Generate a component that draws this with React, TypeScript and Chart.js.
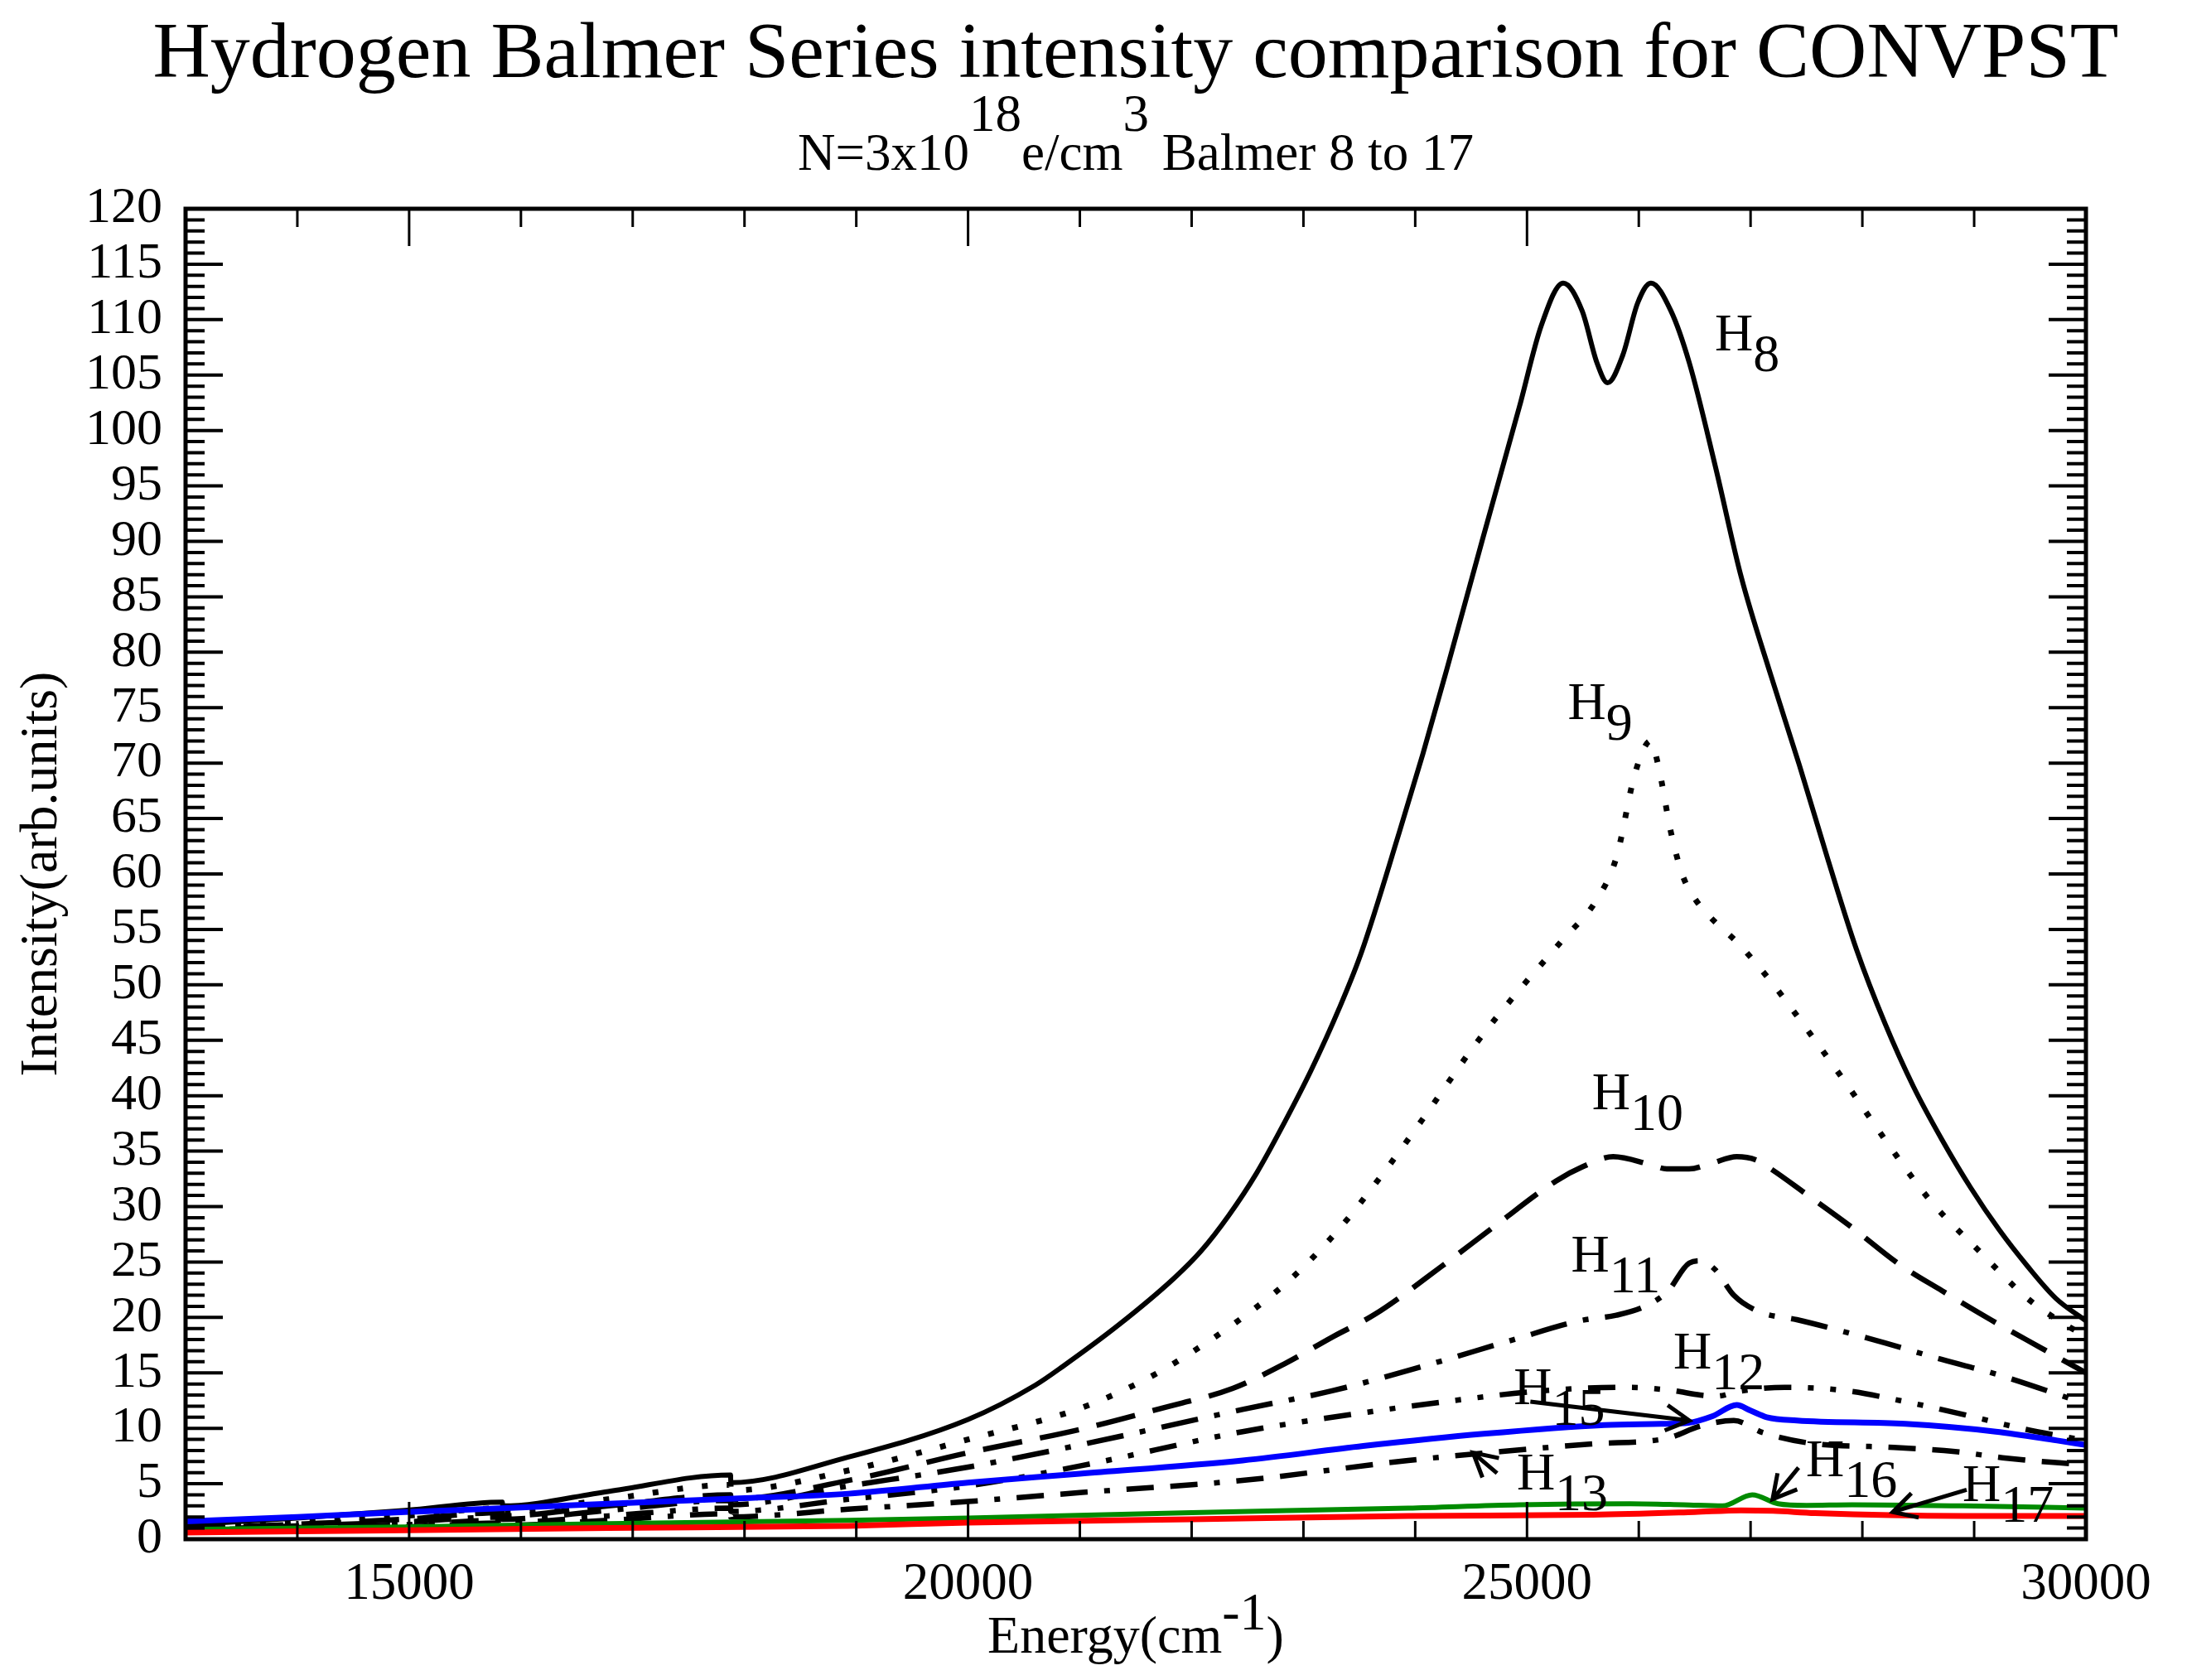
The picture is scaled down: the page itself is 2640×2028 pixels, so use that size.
import React, { useEffect, useRef } from "react";
import Chart from "chart.js/auto";

const SERIF = '"Liberation Serif", "Times New Roman", Times, serif';

// Energy (cm^-1) / intensity (arb. units), one pair per Balmer line.
// The small doubled energies are the steps the original curves have at low energy.
const h8Energy = [13000, 14000, 14965, 15835, 15836, 16780, 17876, 17877, 18929, 20000, 20603, 20850, 21344, 21839, 22085, 22332, 22580, 22826, 23074, 23321, 23518, 23856, 24068, 24281, 24600, 24931, 25129, 25324, 25493, 25626, 25721, 25857, 25990, 26109, 26287, 26452, 26684, 26916, 27182, 27437, 27692, 27947, 28203, 28458, 28714, 28969, 29224, 29479, 29733, 30000];
const h8Intensity = [1.3, 1.9, 2.6, 3.35, 3.0, 4.3, 5.8, 5.1, 7.4, 10.8, 13.9, 15.6, 19.3, 23.5, 26.0, 29.2, 33.0, 37.5, 42.4, 47.9, 52.9, 63.7, 70.8, 78.4, 90.1, 102.1, 109.5, 113.3, 110.8, 106.1, 104.3, 106.8, 111.5, 113.3, 110.8, 106.1, 96.8, 86.8, 77.9, 69.8, 61.3, 53.2, 46.5, 40.8, 36.0, 31.7, 27.9, 24.6, 21.7, 19.7];

const h9Energy = [13000, 14000, 14965, 15835, 15836, 16780, 17876, 17877, 18929, 20000, 21003, 21567, 21913, 22430, 22901, 23321, 23691, 24068, 24536, 24919, 25323, 25612, 25800, 25954, 26050, 26105, 26174, 26289, 26391, 26493, 26621, 26902, 27182, 27540, 27897, 28254, 28611, 29044, 29479, 29808, 30000];
const h9Intensity = [1.1, 1.5, 2.1, 2.8, 2.5, 3.6, 4.9, 4.4, 6.2, 9.0, 11.8, 14.3, 16.3, 19.8, 23.6, 28.0, 32.7, 37.9, 44.6, 49.4, 54.1, 57.5, 61.5, 68.6, 71.4, 72.0, 69.8, 63.7, 59.9, 57.9, 56.3, 53.6, 50.3, 45.5, 40.5, 35.3, 30.5, 26.0, 21.7, 19.4, 18.3];

const h10Energy = [13000, 14000, 14965, 15835, 15836, 16780, 17876, 17877, 18929, 20000, 21000, 21728, 22367, 22827, 23271, 23642, 24235, 24707, 25259, 25500, 25771, 26100, 26250, 26450, 26650, 26876, 27050, 27182, 27488, 27897, 28330, 28714, 29147, 29608, 30000];
const h10Intensity = [0.95, 1.35, 1.8, 2.4, 2.1, 3.0, 4.0, 3.6, 5.3, 7.8, 9.9, 11.8, 13.6, 15.8, 18.3, 20.3, 24.6, 28.2, 32.3, 33.6, 34.5, 33.8, 33.4, 33.4, 33.9, 34.5, 34.2, 33.4, 31.2, 28.2, 24.8, 22.4, 19.8, 17.2, 15.0];

const h11Energy = [13000, 14000, 14965, 15835, 15836, 16780, 17876, 17877, 18929, 20000, 21000, 22456, 23264, 24073, 24881, 25474, 25800, 26054, 26254, 26451, 26552, 26684, 26850, 27081, 27413, 27692, 28203, 28714, 29224, 30000];
const h11Intensity = [0.85, 1.2, 1.55, 2.0, 1.8, 2.6, 3.5, 3.1, 4.8, 6.5, 8.5, 11.7, 13.4, 15.6, 18.0, 19.7, 20.2, 21.0, 22.3, 24.9, 25.1, 24.3, 22.0, 20.5, 19.8, 19.1, 17.7, 16.2, 14.8, 12.2];

const h12Energy = [13000, 14000, 14965, 15835, 15836, 16780, 17876, 17877, 18929, 20000, 21000, 22456, 23534, 24342, 25151, 25906, 26300, 26550, 26700, 26876, 27306, 27846, 28385, 28924, 29463, 30000];
const h12Intensity = [0.8, 1.05, 1.3, 1.7, 1.5, 2.1, 2.8, 2.5, 3.6, 4.8, 6.6, 9.7, 11.4, 12.5, 13.4, 13.7, 13.4, 13.0, 12.9, 13.3, 13.7, 13.4, 12.4, 11.2, 9.9, 8.9];

const h13Energy = [13000, 14000, 14965, 15835, 15836, 16780, 17876, 17877, 18929, 20000, 21000, 22456, 23938, 24765, 25592, 26254, 26552, 26850, 27114, 27577, 28237, 28830, 29290, 30000];
const h13Intensity = [0.7, 0.9, 1.1, 1.45, 1.25, 1.7, 2.3, 2.0, 2.7, 3.4, 4.2, 5.3, 7.1, 7.9, 8.6, 9.1, 10.2, 10.7, 9.6, 8.6, 8.3, 7.9, 7.3, 6.7];

const h15Energy = [13000, 14000, 14965, 16000, 16780, 18000, 18929, 20000, 21000, 22456, 23534, 24612, 25690, 26200, 26444, 26660, 26876, 27000, 27145, 27414, 28385, 29194, 29742, 30000];
const h15Intensity = [1.6, 2.0, 2.45, 2.85, 3.2, 3.7, 4.1, 5.1, 5.9, 7.1, 8.4, 9.5, 10.3, 10.4, 10.5, 11.1, 12.1, 11.6, 11.0, 10.7, 10.4, 9.7, 8.9, 8.5];

const h16Energy = [13170, 14965, 16780, 18929, 20000, 22000, 23938, 24930, 25924, 26400, 26750, 27015, 27246, 27500, 27908, 28900, 30000];
const h16Intensity = [0.9, 1.1, 1.4, 1.7, 1.9, 2.4, 2.8, 3.1, 3.2, 3.1, 3.0, 4.0, 3.2, 3.05, 3.1, 3.0, 2.8];

const h17Energy = [13000, 14965, 16780, 18929, 20000, 22000, 23938, 25592, 26500, 26916, 27200, 27577, 28900, 30000];
const h17Intensity = [0.6, 0.8, 1.0, 1.2, 1.5, 1.8, 2.1, 2.2, 2.45, 2.6, 2.55, 2.35, 2.1, 2.1];

// Axis tick values
const energyTicks = [15000, 20000, 25000, 30000];

// Text labels on the curves, anchored in data units (left edge of "H", baseline).
const curveLabels = [
  { sub: "8", x: 26680, y: 107.2 },
  { sub: "9", x: 25364, y: 74.0 },
  { sub: "10", x: 25582, y: 38.8 },
  { sub: "11", x: 25394, y: 24.1 },
  { sub: "12", x: 26310, y: 15.4 },
  { sub: "15", x: 24881, y: 12.2 },
  { sub: "13", x: 24908, y: 4.5 },
  { sub: "16", x: 27495, y: 5.7 },
  { sub: "17", x: 28896, y: 3.4 },
];

const labelArrows = [
  { from: [25030, 12.4], to: [26452, 10.7] },
  { from: [24732, 5.95], to: [24517, 7.8] },
  { from: [27429, 6.45], to: [27197, 3.6] },
  { from: [28933, 4.45], to: [28272, 2.45] },
];

const series = [
  { name: "H8", xs: h8Energy, ys: h8Intensity, color: "#000000", width: 6, dash: [] as number[] },
  { name: "H9", xs: h9Energy, ys: h9Intensity, color: "#000000", width: 7, dash: [7, 23] },
  { name: "H10", xs: h10Energy, ys: h10Intensity, color: "#000000", width: 6.5, dash: [48, 22] },
  { name: "H11", xs: h11Energy, ys: h11Intensity, color: "#000000", width: 6.5, dash: [45, 20, 7, 20] },
  { name: "H12", xs: h12Energy, ys: h12Intensity, color: "#000000", width: 6.5, dash: [33, 20, 7, 20, 7, 20] },
  { name: "H13", xs: h13Energy, ys: h13Intensity, color: "#000000", width: 6.5, dash: [33, 20, 7, 20, 33, 20] },
  { name: "H15", xs: h15Energy, ys: h15Intensity, color: "#0000ff", width: 7, dash: [] as number[] },
  { name: "H16", xs: h16Energy, ys: h16Intensity, color: "#008b00", width: 6, dash: [] as number[] },
  { name: "H17", xs: h17Energy, ys: h17Intensity, color: "#ff0000", width: 7, dash: [] as number[] },
];

type Piece = { text: string; shift: number };

function drawPieces(ctx: CanvasRenderingContext2D, pieces: Piece[], x: number, y: number, centered: boolean) {
  const widths = pieces.map((p) => ctx.measureText(p.text).width);
  const total = widths.reduce((a, b) => a + b, 0);
  let cx = centered ? x - total / 2 : x;
  ctx.textAlign = "left";
  ctx.textBaseline = "alphabetic";
  pieces.forEach((p, i) => {
    ctx.fillText(p.text, cx, y + p.shift);
    cx += widths[i];
  });
}

function drawArrow(ctx: CanvasRenderingContext2D, x1: number, y1: number, x2: number, y2: number) {
  const ang = Math.atan2(y2 - y1, x2 - x1);
  const head = 32;
  const spread = 0.5;
  ctx.beginPath();
  ctx.moveTo(x1, y1);
  ctx.lineTo(x2, y2);
  ctx.moveTo(x2 - head * Math.cos(ang - spread), y2 - head * Math.sin(ang - spread));
  ctx.lineTo(x2, y2);
  ctx.lineTo(x2 - head * Math.cos(ang + spread), y2 - head * Math.sin(ang + spread));
  ctx.stroke();
}

const decorPlugin = {
  id: "balmerDecor",
  afterDatasetsDraw(chart: any) {
    const { ctx, chartArea } = chart;
    const xs = chart.scales.x;
    const ys = chart.scales.y;
    const { left, right, top, bottom } = chartArea;
    ctx.save();
    ctx.strokeStyle = "#000";
    ctx.fillStyle = "#000";
    ctx.setLineDash([]);
    ctx.lineCap = "butt";

    // inward tick marks on all four sides
    ctx.lineWidth = 3;
    for (let v = Math.ceil(xs.min / 1000) * 1000; v <= xs.max; v += 1000) {
      const px = xs.getPixelForValue(v);
      const len = v % 5000 === 0 ? 45 : 22;
      ctx.beginPath();
      ctx.moveTo(px, bottom);
      ctx.lineTo(px, bottom - len);
      ctx.moveTo(px, top);
      ctx.lineTo(px, top + len);
      ctx.stroke();
    }
    ctx.lineWidth = 4;
    for (let v = ys.min; v <= ys.max; v += 1) {
      const py = ys.getPixelForValue(v);
      const len = v % 5 === 0 ? 45 : 23;
      ctx.beginPath();
      ctx.moveTo(left, py);
      ctx.lineTo(left + len, py);
      ctx.moveTo(right, py);
      ctx.lineTo(right - len, py);
      ctx.stroke();
    }

    // frame
    ctx.lineWidth = 5;
    ctx.lineJoin = "miter";
    ctx.strokeRect(left, top, right - left, bottom - top);

    // arrows pointing from labels to curves
    ctx.lineWidth = 5;
    labelArrows.forEach((a) => {
      drawArrow(
        ctx,
        xs.getPixelForValue(a.from[0]),
        ys.getPixelForValue(a.from[1]),
        xs.getPixelForValue(a.to[0]),
        ys.getPixelForValue(a.to[1])
      );
    });

    // H_n labels
    ctx.font = `64px ${SERIF}`;
    curveLabels.forEach((l) => {
      drawPieces(
        ctx,
        [
          { text: "H", shift: 0 },
          { text: l.sub, shift: 25 },
        ],
        xs.getPixelForValue(l.x),
        ys.getPixelForValue(l.y),
        false
      );
    });

    // titles
    const midX = (left + right) / 2;
    ctx.font = `96px ${SERIF}`;
    drawPieces(ctx, [{ text: "Hydrogen Balmer Series intensity comparison for CONVPST", shift: 0 }], midX, 85, true);

    ctx.font = `63px ${SERIF}`;
    drawPieces(
      ctx,
      [
        { text: "N=3x10", shift: 0 },
        { text: "18", shift: -47 },
        { text: "e/cm", shift: 0 },
        { text: "3", shift: -47 },
        { text: " Balmer 8 to 17", shift: 0 },
      ],
      midX,
      197,
      true
    );

    ctx.font = `64px ${SERIF}`;
    drawPieces(
      ctx,
      [
        { text: "Energy(cm", shift: 0 },
        { text: "-1", shift: -28 },
        { text: ")", shift: 0 },
      ],
      midX,
      1987,
      true
    );

    ctx.save();
    ctx.translate(60, (top + bottom) / 2);
    ctx.rotate(-Math.PI / 2);
    ctx.font = `64px ${SERIF}`;
    drawPieces(ctx, [{ text: "Intensity(arb.units)", shift: 0 }], 0, 0, true);
    ctx.restore();

    ctx.restore();
  },
};

const BalmerChart: React.FC = () => {
  const canvasRef = useRef<HTMLCanvasElement>(null);
  const chartRef = useRef<Chart | null>(null);

  useEffect(() => {
    if (!canvasRef.current) return;
    const ctx = canvasRef.current.getContext("2d");
    if (!ctx) return;

    if (chartRef.current) {
      chartRef.current.destroy();
    }

    const datasets = series.map((s, i) => ({
      label: s.name,
      data: s.xs.map((x, k) => ({ x, y: s.ys[k] })),
      borderColor: s.color,
      backgroundColor: s.color,
      borderWidth: s.width,
      borderDash: s.dash,
      borderCapStyle: "butt" as const,
      borderJoinStyle: "round" as const,
      pointRadius: 0,
      fill: false,
      cubicInterpolationMode: "monotone" as const,
      order: series.length - i,
    }));

    chartRef.current = new Chart(ctx, {
      type: "line",
      data: { datasets },
      options: {
        animation: false,
        responsive: false,
        devicePixelRatio: 1,
        layout: { padding: { top: 244, right: 114, bottom: 0, left: 0 } },
        plugins: {
          legend: { display: false },
          tooltip: { enabled: false },
          title: { display: false },
        },
        scales: {
          x: {
            type: "linear",
            min: 13000,
            max: 30000,
            grid: { display: false },
            border: { display: false },
            afterBuildTicks: (scale: any) => {
              scale.ticks = energyTicks.map((v) => ({ value: v }));
            },
            ticks: {
              autoSkip: false,
              maxRotation: 0,
              padding: 10,
              color: "#000",
              font: { family: SERIF, size: 63 },
              callback: (v: any) => String(v),
            },
            afterFit: (scale: any) => {
              scale.height = 162;
            },
          },
          y: {
            type: "linear",
            min: 0,
            max: 120,
            grid: { display: false },
            border: { display: false },
            ticks: {
              stepSize: 5,
              maxTicksLimit: 200,
              autoSkip: false,
              padding: 20,
              color: "#000",
              font: { family: SERIF, size: 62 },
              callback: (v: any) => String(v),
            },
            afterFit: (scale: any) => {
              scale.width = 216;
            },
          },
        },
      },
      plugins: [decorPlugin],
    });

    return () => {
      if (chartRef.current) {
        chartRef.current.destroy();
        chartRef.current = null;
      }
    };
  }, []);

  return <canvas ref={canvasRef} width={2624} height={2012} style={{ display: "block" }} />;
};

export default function App() {
  return <BalmerChart />;
}
